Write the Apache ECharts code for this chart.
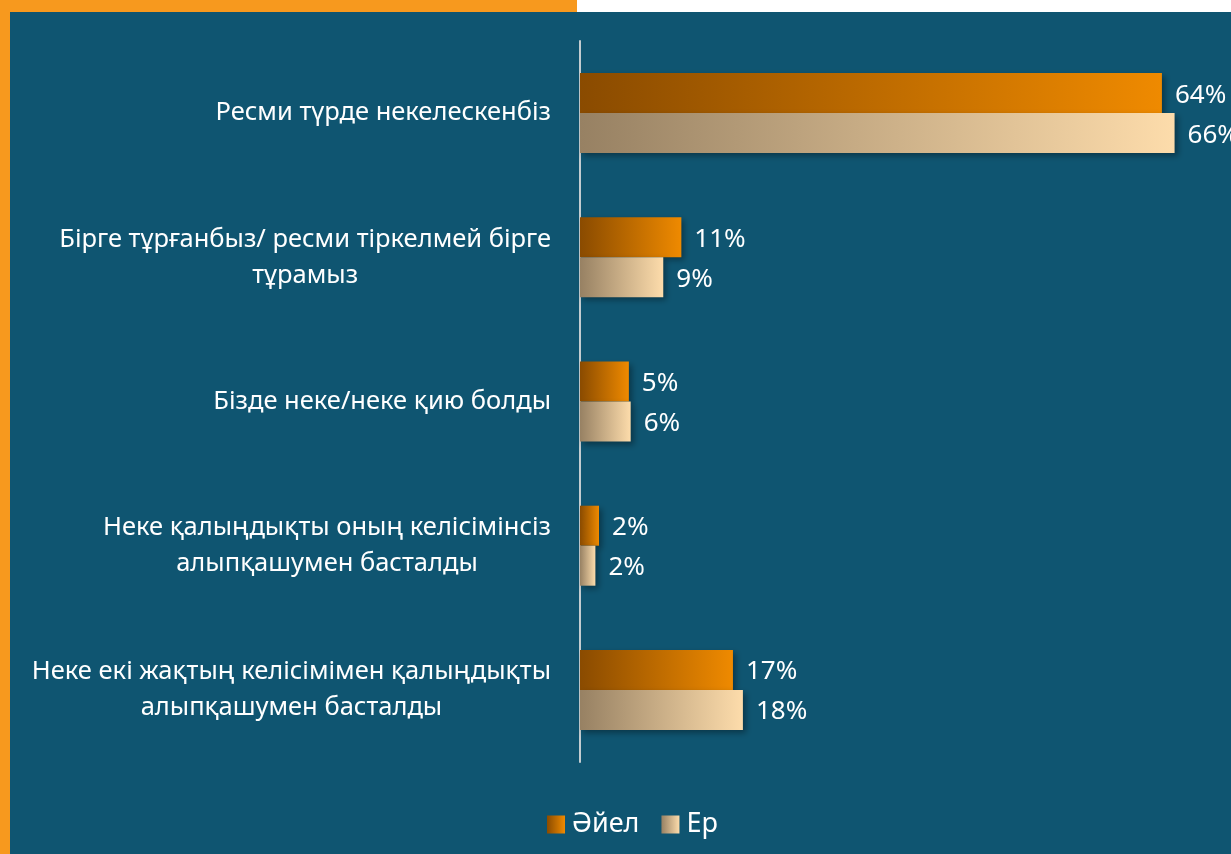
<!DOCTYPE html>
<html>
<head>
<meta charset="utf-8">
<script src="https://cdn.jsdelivr.net/npm/echarts@6/dist/echarts.min.js"></script>
<style>
  html, body { margin: 0; padding: 0; background: #ffffff; }
  #chart { width: 1231px; height: 854px; }
</style>
</head>
<body>
<div id="chart"></div>
<script>
// категориялар (жоғарыдан төмен)
const categories = [
  "Ресми түрде некелескенбіз",
  "Бірге тұрғанбыз/ ресми тіркелмей бірге\nтұрамыз",
  "Бізде неке/неке қию болды",
  "Неке қалыңдықты оның келісімінсіз\nалыпқашумен басталды",
  "Неке екі жақтың келісімімен қалыңдықты\nалыпқашумен басталды"
];
const seriesNames = ["Әйел", "Ер"];
const womenValues = [64.3, 11.2, 5.4, 2.1, 16.9];
const menValues = [65.7, 9.2, 5.6, 1.7, 18.0];

const FONT = "Noto Sans";

const chart = echarts.init(document.getElementById("chart"));

const orangeGrad = new echarts.graphic.LinearGradient(0, 0, 1, 0, [
  { offset: 0, color: "#8a4b00" },
  { offset: 1, color: "#ef8a00" }
]);
const beigeGrad = new echarts.graphic.LinearGradient(0, 0, 1, 0, [
  { offset: 0, color: "#978163" },
  { offset: 1, color: "#fddcab" }
]);

const barShadow = {
  shadowColor: "rgba(0,0,0,0.35)",
  shadowBlur: 6,
  shadowOffsetX: 3,
  shadowOffsetY: 3
};

const valueLabel = {
  show: true,
  position: "right",
  distance: 13,
  offset: [0, 2],
  color: "#ffffff",
  fontFamily: FONT,
  fontSize: 26,
  formatter: (p) => Math.round(p.value) + "%"
};

const option = {
  backgroundColor: "#0f5571",
  textStyle: { fontFamily: FONT },
  graphic: [
    // рамка
    { type: "rect", left: 0, top: 0, shape: { width: 577, height: 12 }, style: { fill: "#f7991e" }, silent: true },
    { type: "rect", left: 0, top: 0, shape: { width: 10, height: 854 }, style: { fill: "#f7991e" }, silent: true },
    { type: "rect", left: 577, top: 0, shape: { width: 654, height: 12 }, style: { fill: "#ffffff" }, silent: true }
  ],
  legend: {
    data: seriesNames,
    left: 542,
    top: 806,
    itemWidth: 18,
    itemHeight: 18,
    itemGap: 22,
    icon: "rect",
    textStyle: { color: "#ffffff", fontSize: 27, fontFamily: FONT, padding: [0, 0, 0, 2] }
  },
  grid: {
    left: 580,
    right: 17.5,
    top: 41,
    bottom: 92,
    containLabel: false
  },
  xAxis: {
    type: "value",
    min: 0,
    max: 70,
    show: false
  },
  yAxis: {
    type: "category",
    inverse: true,
    data: categories,
    axisLine: { show: true, lineStyle: { color: "#c3ccd0", width: 2 } },
    axisTick: { show: false },
    splitLine: { show: false },
    axisLabel: {
      color: "#ffffff",
      fontFamily: FONT,
      fontSize: 25.5,
      margin: 29,
      align: "right",
      lineHeight: 36,
      formatter: (v) => v.split("\n").map((s) => "{c|" + s + "}").join("\n"),
      rich: {
        c: { align: "center", color: "#ffffff", fontSize: 25.5, fontFamily: FONT, lineHeight: 36 }
      }
    }
  },
  series: [
    {
      name: seriesNames[0],
      type: "bar",
      data: womenValues,
      barWidth: 40,
      barGap: "0%",
      itemStyle: Object.assign({ color: orangeGrad }, barShadow),
      label: valueLabel
    },
    {
      name: seriesNames[1],
      type: "bar",
      data: menValues,
      barWidth: 40,
      barGap: "0%",
      itemStyle: Object.assign({ color: beigeGrad }, barShadow),
      label: valueLabel
    }
  ]
};

chart.setOption(option);
</script>
</body>
</html>
